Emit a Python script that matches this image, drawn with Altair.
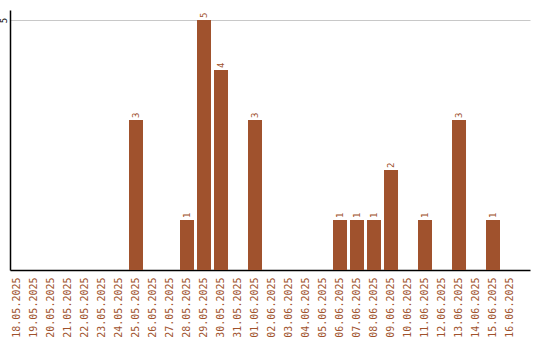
import altair as alt
import pandas as pd

dates = ["18.05.2025", "19.05.2025", "20.05.2025", "21.05.2025", "22.05.2025",
         "23.05.2025", "24.05.2025", "25.05.2025", "26.05.2025", "27.05.2025",
         "28.05.2025", "29.05.2025", "30.05.2025", "31.05.2025", "01.06.2025",
         "02.06.2025", "03.06.2025", "04.06.2025", "05.06.2025", "06.06.2025",
         "07.06.2025", "08.06.2025", "09.06.2025", "10.06.2025", "11.06.2025",
         "12.06.2025", "13.06.2025", "14.06.2025", "15.06.2025", "16.06.2025"]
counts = [0, 0, 0, 0, 0, 0, 0, 3, 0, 0,
          1, 5, 4, 0, 3, 0, 0, 0, 0, 1,
          1, 1, 2, 0, 1, 0, 3, 0, 1, 0]
y_ticks = [5]

df = pd.DataFrame({"date": dates, "count": counts})
BROWN = "#a0522d"
FONT = "DejaVu Sans Mono"

x_enc = alt.X("date:N", sort=dates,
              scale=alt.Scale(paddingInner=0.1765, paddingOuter=0.382, align=0),
              axis=alt.Axis(title=None, labelAngle=270, labelColor=BROWN, labelFont=FONT,
                            labelFontSize=10, ticks=False, labelPadding=7,
                            domainColor="black", domainWidth=1.5))
y_enc = alt.Y("count:Q", scale=alt.Scale(domain=[0, 5.2], nice=False),
              axis=alt.Axis(title=None, values=y_ticks, labelAngle=270, labelFont=FONT,
                            labelFontSize=9, labelColor="black", ticks=False, labelPadding=2,
                            labelAlign="center", labelBaseline="bottom",
                            grid=True, gridColor="#c8c8c8", domainColor="black", domainWidth=1.5))

bars = alt.Chart(df).mark_bar(color=BROWN).encode(x=x_enc, y=y_enc)
labels = alt.Chart(df).transform_filter("datum.count > 0").mark_text(
    angle=270, align="left", baseline="middle", dx=2, color=BROWN, font=FONT, fontSize=9
).encode(x=alt.X("date:N", sort=dates), y="count:Q", text="count:Q")

chart = (bars + labels).properties(
    width=520, height=260,
    autosize=alt.AutoSizeParams(type="none"),
    padding={"left": 10, "top": 10, "right": 10, "bottom": 70},
    background="white",
).configure_view(stroke=None)

chart.save("out.html", embed_options={"renderer": "svg", "actions": False})
